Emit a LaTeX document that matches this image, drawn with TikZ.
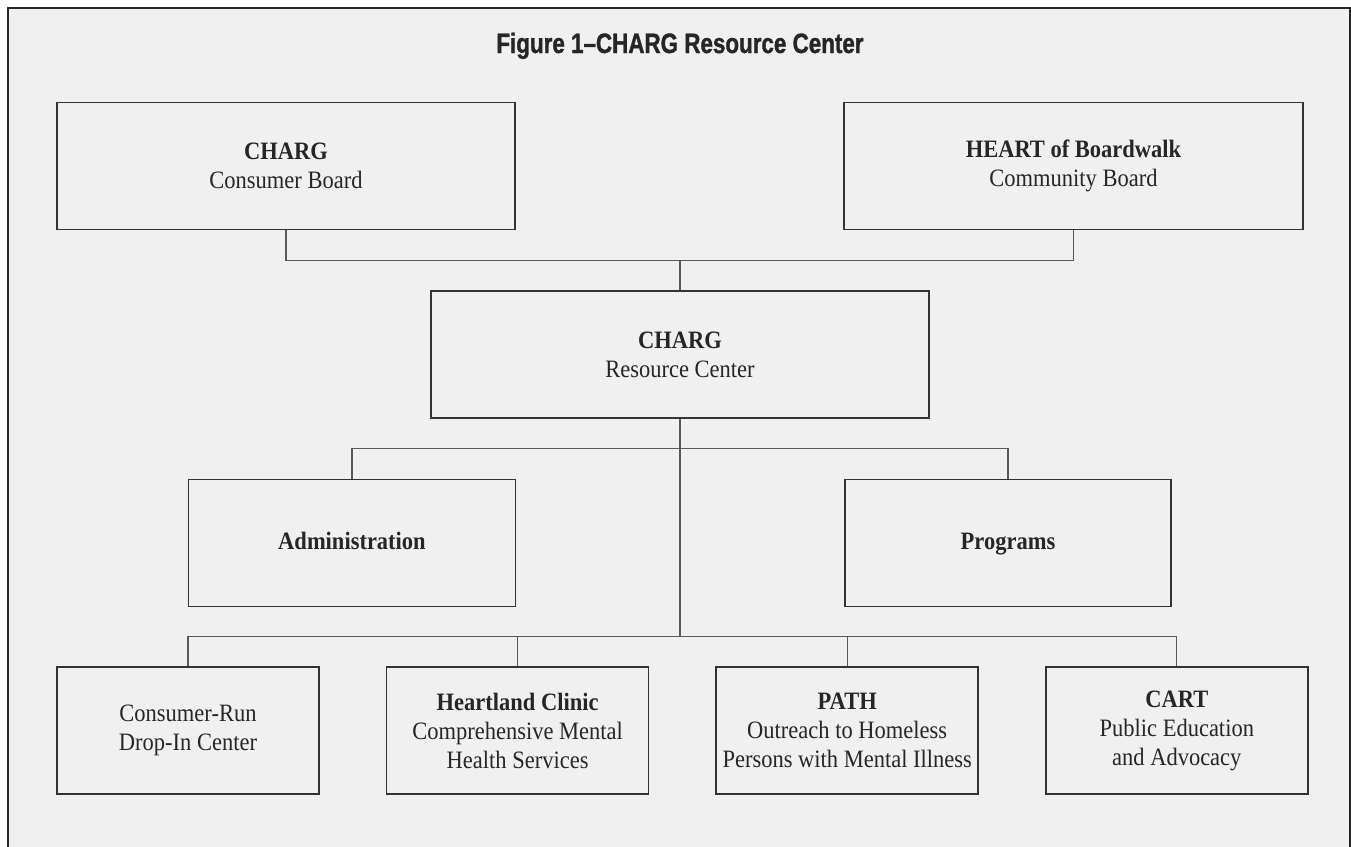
\documentclass[tikz,border=0pt]{standalone}
\usepackage{fontspec}
\setmainfont{Liberation Serif}[FakeStretch=0.9]
\newfontfamily\titlefont{Liberation Sans}[FakeStretch=0.8, FakeBold=1.2]
\usepackage{xcolor}
\usetikzlibrary{positioning}

\begin{document}
\begin{tikzpicture}[
    box/.style={draw=black!80, line width=0.8pt, align=center, text=black!85,
                minimum height=63.5pt, inner sep=0pt,
                font=\fontsize{12.5}{14.5}\selectfont},
    unit/.style={box, minimum width=131pt},
    link/.style={draw=black!65, line width=0.65pt}
  ]
  \useasboundingbox (0,0) rectangle (675.5pt,-423.5pt);
  \fill[black!6] (4pt,-4pt) rectangle (675pt,-430pt);
  \draw[black!85, line width=0.8pt] (4pt,-430pt) -- (4pt,-4pt) -- (675pt,-4pt) -- (675pt,-430pt);

  \node[anchor=base, text=black!85, font=\titlefont\bfseries\fontsize{14}{16}\selectfont]
    (title) at (340pt,-26.5pt) {Figure 1–CHARG Resource Center};

  \node[box, minimum width=249pt] (rc) at (340pt,-177.25pt) {\textbf{CHARG}\\Resource Center};
  \node[box, minimum width=229pt, above=30pt of rc, xshift=-197pt] (cboard) {\textbf{CHARG}\\Consumer Board};
  \node[box, minimum width=229.5pt, above=30pt of rc, xshift=196.75pt] (hboard) {\textbf{HEART of Boardwalk}\\Community Board};
  \node[box, minimum width=163.5pt, text height=8.5pt, text depth=2.5pt, below=30pt of rc, xshift=-164pt] (admin) {\textbf{Administration}};
  \node[box, minimum width=163pt, text height=8.5pt, text depth=2.5pt, below=30pt of rc, xshift=164pt] (prog) {\textbf{Programs}};
  \node[unit, below=29.5pt of admin, xshift=-82pt] (dropin) {Consumer-Run\\Drop-In Center};
  \node[unit, right=33pt of dropin] (clinic) {\textbf{Heartland Clinic}\\Comprehensive Mental\\Health Services};
  \node[unit, right=33pt of clinic] (outreach) {\textbf{PATH}\\Outreach to Homeless\\Persons with Mental Illness};
  \node[unit, right=33pt of outreach] (cart) {\textbf{CART}\\Public Education\\and Advocacy};

  \coordinate[above=15pt of rc.north] (topbar);
  \draw[link] (cboard.south) |- (topbar) -| (hboard.south);
  \draw[link] (topbar) -- (rc.north);
  \coordinate[below=15pt of rc.south] (midbar);
  \draw[link] (admin.north) |- (midbar) -| (prog.north);
  \coordinate[above=15pt of dropin.north] (lowbar);
  \draw[link] (rc.south) -- (rc.south |- lowbar);
  \draw[link] (lowbar) -- (cart.north |- lowbar);
  \foreach \n in {dropin, clinic, outreach, cart}
    \draw[link] (\n.north) -- (\n.north |- lowbar);
\end{tikzpicture}
\end{document}
